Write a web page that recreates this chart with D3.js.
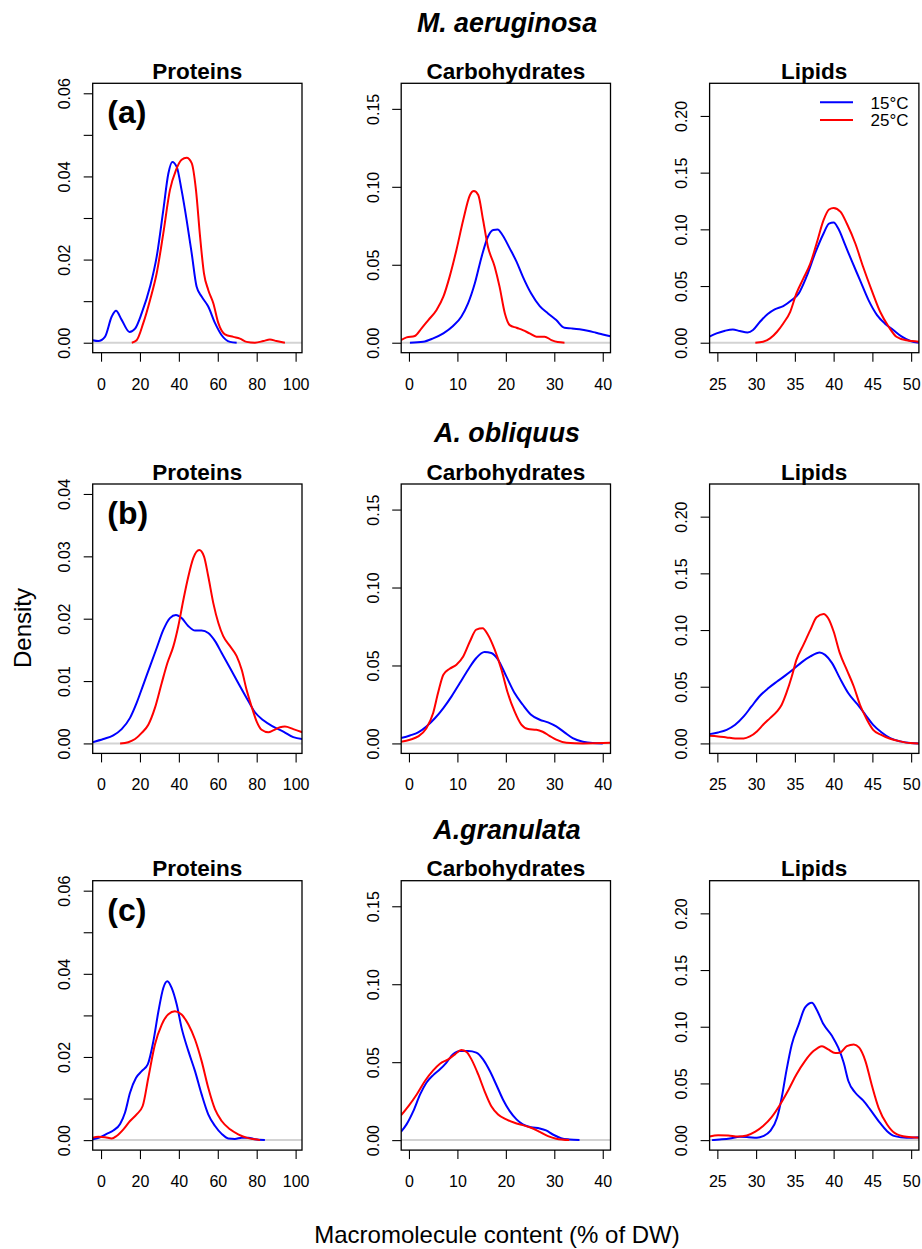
<!DOCTYPE html>
<html><head><meta charset="utf-8">
<script src="https://cdn.jsdelivr.net/npm/d3@7"></script>
<style>
body{margin:0;background:#fff}
text{font-family:"Liberation Sans",Arial,Helvetica,sans-serif;fill:#000}
</style>
</head><body>
<svg id="chart" width="922" height="1249"></svg>
<script>
// ---------- Labels ----------
const speciesTitles = ["M. aeruginosa", "A. obliquus", "A.granulata"];
const panelTags = ["(a)", "(b)", "(c)"];
const componentTitles = ["Proteins", "Carbohydrates", "Lipids"];
const seriesNames = ["15°C", "25°C"];
const seriesColors = ["#0000ff", "#ff0000"];
const yAxisTitle = "Density";
const xAxisTitle = "Macromolecule content (% of DW)";

// ---------- Tick values ----------
const proteinXTicks = [0, 20, 40, 60, 80, 100];
const carbXTicks = [0, 10, 20, 30, 40];
const lipidXTicks = [25, 30, 35, 40, 45, 50];
const proteinYTicks06 = [0, 0.01, 0.02, 0.03, 0.04, 0.05, 0.06];
const proteinYLabels06 = [0, 0.02, 0.04, 0.06];
const proteinYTicks04 = [0, 0.01, 0.02, 0.03, 0.04];
const carbYTicks = [0, 0.05, 0.10, 0.15];
const lipidYTicks = [0, 0.05, 0.10, 0.15, 0.20];

// ---------- Axis limits (xlim / ylim) ----------
const proteinXLim = [-0.3, 99.3];
const carbXLim = [0, 40];
const lipidXLim = [25, 50];
const proteinYLim06 = [0, 0.06];
const proteinYLim04 = [0, 0.04];
const carbYLim = [0, 0.16];
const lipidYLim = [0, 0.22];

// ---------- Density curves [x, density] ----------
// (a) M. aeruginosa
const aProt15 = [[-4.3,0.0006],[-1.4,0.0004],[2,0.0014],[5.5,0.0063],[7.7,0.0077],[10.6,0.0055],[14.6,0.0026],[17.5,0.0034],[20.9,0.0071],[25.2,0.0135],[28.6,0.0207],[32,0.0319],[34.6,0.0407],[36.6,0.0435],[38.9,0.0423],[41.4,0.0367],[44,0.0295],[46.6,0.0215],[49.1,0.0135],[51.7,0.0111],[55.1,0.0087],[58.6,0.0047],[62,0.0018],[66.3,0.0002],[69.7,0]];
const aProt25 = [[15.8,0],[18.3,0.0006],[21.7,0.0047],[25.2,0.0103],[28.6,0.0167],[32,0.0263],[35.4,0.0367],[38.5,0.0415],[41.4,0.044],[44,0.0445],[46.6,0.0432],[48.8,0.0367],[50.9,0.0255],[52.9,0.0167],[55.1,0.0127],[57.7,0.0095],[60.3,0.0047],[63.7,0.002],[68,0.0014],[71.4,0.001],[74.8,0.0002],[79.1,0],[83.4,0.0004],[86.8,0.0008],[90.2,0.0004],[94.5,0]];
const aCarb15 = [[0.2,0],[2.95,0.0006],[5,0.0028],[7.1,0.006],[9.1,0.0107],[10.8,0.0167],[12.2,0.0252],[13.6,0.0381],[15,0.0552],[16.3,0.068],[17.4,0.0723],[18.3,0.0727],[19.3,0.0691],[20.8,0.0605],[22.2,0.052],[23.5,0.0424],[25.2,0.0317],[27,0.0235],[28.7,0.0188],[30.4,0.0145],[32.1,0.0096],[33.5,0.0092],[35.2,0.0086],[36.9,0.0077],[38.6,0.0064],[40,0.0053],[41.6,0.0042]];
const aCarb25 = [[-1.65,0.0017],[-0.5,0.0034],[1.2,0.0043],[2.6,0.0092],[4,0.0145],[5.7,0.021],[7.1,0.0295],[8.4,0.0424],[9.8,0.0595],[11.2,0.0787],[12.6,0.0948],[13.4,0.0973],[14.3,0.0948],[15.3,0.0787],[16.3,0.0616],[17.7,0.0488],[18.7,0.036],[19.8,0.0188],[20.8,0.0113],[22.2,0.0096],[23.5,0.0081],[24.9,0.006],[26.3,0.0039],[28,0.0039],[29.4,0.0017],[30.7,0.0004],[32.1,0]];
const aLip15 = [[23.97,0.0053],[24.9,0.0082],[26,0.0106],[27,0.0117],[27.9,0.0103],[28.9,0.0091],[29.6,0.0112],[30.5,0.0185],[31.5,0.0253],[32.4,0.0294],[33.5,0.0323],[34.6,0.0376],[35.5,0.0435],[36.5,0.0582],[37.6,0.0787],[38.7,0.0963],[39.4,0.1051],[40,0.106],[40.6,0.1007],[41.5,0.086],[42.3,0.0728],[43.4,0.0552],[44.5,0.0376],[45.6,0.0244],[46.6,0.017],[47.7,0.0112],[48.8,0.0053],[49.9,0.0015],[51,0]];
const aLip25 = [[29.9,0],[30.9,0.0009],[31.8,0.0038],[32.7,0.0097],[33.5,0.017],[34.4,0.0273],[35.2,0.0435],[36.1,0.0567],[37,0.0699],[37.8,0.0875],[38.7,0.1081],[39.4,0.1175],[40,0.1189],[40.9,0.1154],[41.7,0.1051],[42.8,0.0875],[43.8,0.067],[44.9,0.0464],[46,0.0273],[47.1,0.0141],[48.1,0.0053],[49.4,0.0021],[51,0.0009]];
// (b) A. obliquus
const bProt15 = [[-4.3,0.0002],[1.2,0.0007],[6.3,0.0013],[10.6,0.0023],[14.9,0.0041],[18.3,0.0065],[21.7,0.0094],[25.2,0.0124],[28.6,0.0153],[32,0.0182],[35.4,0.0201],[38.5,0.0206],[41.4,0.0201],[44.9,0.0188],[48.3,0.0181],[51.7,0.0181],[55.1,0.0177],[58.6,0.0164],[62,0.0145],[66.3,0.0121],[70.5,0.0097],[74.8,0.0073],[79.1,0.005],[83.4,0.0037],[88.5,0.0027],[93.7,0.0019],[98.8,0.001],[103.4,0.0007]];
const bProt25 = [[9.8,0],[14,0.0002],[17.5,0.0007],[20.9,0.0017],[24.3,0.003],[27.7,0.0057],[31.2,0.0097],[34.1,0.0129],[37.2,0.0156],[39.7,0.0188],[42.3,0.023],[44.9,0.0268],[47.4,0.0297],[50.5,0.031],[52.9,0.03],[55.1,0.0268],[57.7,0.0225],[60.3,0.0193],[62.8,0.0172],[66.3,0.0156],[69.7,0.014],[72.3,0.0118],[74.8,0.0086],[77.4,0.0059],[80,0.0035],[82.5,0.0022],[86,0.0018],[88.5,0.0021],[92,0.0026],[94.5,0.0027],[98.8,0.0023],[103.4,0.0018]];
const bCarb15 = [[-1.65,0.0034],[0.2,0.0051],[1.9,0.0071],[3.6,0.0109],[5.4,0.0163],[7.1,0.0227],[8.8,0.0302],[10.5,0.0387],[12.2,0.0473],[13.9,0.0548],[15.6,0.0586],[17,0.058],[18.4,0.0537],[20.1,0.043],[21.8,0.0323],[23.5,0.0248],[25.2,0.0184],[27,0.0152],[28.7,0.0135],[30.4,0.0109],[32.1,0.0071],[33.8,0.0034],[35.9,0.0011],[37.9,0.0002],[40,0]];
const bCarb25 = [[-1.65,0.0011],[0.2,0.0024],[1.9,0.0045],[3.6,0.0098],[5,0.0195],[6,0.0323],[7.1,0.0441],[8.4,0.0479],[9.8,0.0505],[11.2,0.0558],[12.6,0.0655],[13.9,0.073],[15.2,0.0738],[16.3,0.0697],[17.7,0.0601],[19.1,0.0473],[20.4,0.0323],[21.8,0.0205],[23.2,0.012],[24.6,0.0092],[26.3,0.0088],[27.6,0.0075],[29,0.0049],[30.4,0.0024],[32.5,0.0004],[35.9,0],[40,0.0002],[41.6,0.0004]];
const bLip15 = [[24,0.0082],[25.1,0.0097],[26.2,0.012],[27.3,0.0164],[28.4,0.0238],[29.4,0.0326],[30.5,0.042],[31.6,0.0488],[32.7,0.0546],[33.7,0.0596],[34.8,0.0655],[35.9,0.0717],[37,0.0767],[38.2,0.0802],[38.9,0.0781],[39.8,0.0708],[40.8,0.0576],[41.9,0.0443],[43,0.035],[44.1,0.0253],[45.1,0.0164],[46.2,0.0097],[47.3,0.0047],[48.6,0.0018],[49.9,0.0003],[51,0]];
const bLip25 = [[24,0.0068],[25.1,0.0062],[26.2,0.0053],[27.3,0.0044],[28.4,0.0044],[29.2,0.0062],[30.1,0.0106],[30.9,0.0164],[31.8,0.0223],[32.7,0.0282],[33.3,0.0341],[33.9,0.0443],[34.6,0.059],[35.2,0.0737],[36.1,0.0869],[37,0.1001],[37.8,0.1113],[38.7,0.1142],[39.3,0.1104],[40,0.0987],[40.8,0.0796],[41.7,0.0649],[42.6,0.0502],[43.4,0.0341],[44.3,0.0209],[45.1,0.012],[46.2,0.0073],[47.3,0.0041],[48.6,0.0018],[49.9,0.0003],[51,0]];
// (c) A. granulata
const cProt15 = [[-4.3,0.0002],[-0.5,0.0007],[2.9,0.0015],[6.3,0.0023],[9.8,0.0039],[12.3,0.0066],[14.9,0.0114],[18,0.015],[20.9,0.0166],[24,0.0182],[26.9,0.0238],[29.5,0.031],[32,0.0366],[34.1,0.0382],[36.3,0.0366],[38.9,0.0326],[41.4,0.027],[44.9,0.0214],[48.3,0.0166],[51.7,0.011],[55.1,0.0062],[58.6,0.0034],[62,0.0015],[65.4,0.0004],[68.8,0.0003],[72.3,0.0006],[75.7,0.0006],[79.1,0.0002],[84.2,0]];
const cProt25 = [[-4.3,0.0006],[-1.4,0.0008],[2.1,0.0007],[5.5,0.0004],[8,0.001],[11.5,0.0026],[14.9,0.0046],[18.3,0.0062],[21.4,0.0082],[24.3,0.015],[27.7,0.023],[31.2,0.0278],[34.6,0.0303],[38,0.031],[41.4,0.0302],[44.9,0.0278],[48.3,0.0242],[51.7,0.019],[55.1,0.0126],[58.6,0.0074],[62,0.0046],[66.3,0.0026],[70.5,0.0014],[74.8,0.0006],[79.1,0.0002],[81.7,0]];
const cCarb15 = [[-1.65,0.0053],[-0.5,0.0101],[0.9,0.0186],[2.3,0.0293],[3.6,0.0368],[5,0.0417],[6.4,0.0454],[7.7,0.0496],[9.1,0.055],[10.5,0.0571],[12.2,0.0571],[13.9,0.0561],[15.3,0.0518],[16.7,0.0443],[18,0.0357],[19.4,0.0261],[20.8,0.0186],[22.2,0.0133],[23.5,0.0101],[25.2,0.0083],[27,0.0075],[28.3,0.0062],[29.7,0.0036],[31.4,0.0013],[33.1,0.0004],[35.2,0]];
const cCarb25 = [[-1.65,0.0158],[-0.1,0.0218],[1.6,0.0293],[3.3,0.0379],[5,0.0447],[6.4,0.049],[8.1,0.0518],[9.5,0.055],[10.8,0.0578],[11.9,0.0565],[12.9,0.0518],[14.3,0.0421],[15.6,0.0315],[17,0.0218],[18.4,0.0165],[20.1,0.0133],[21.8,0.0111],[23.5,0.0096],[25.2,0.0079],[27,0.0053],[28.7,0.0026],[30.4,0.0009],[33.1,0]];
const cLip15 = [[24.3,0],[25.3,0.0006],[26.6,0.0015],[27.9,0.0029],[29,0.0026],[30.1,0.0021],[30.9,0.0035],[31.8,0.0079],[32.7,0.0197],[33.3,0.0374],[33.9,0.0609],[34.6,0.0844],[35.5,0.1021],[36.3,0.1168],[37.2,0.1212],[37.8,0.1153],[38.7,0.1021],[39.8,0.0918],[40.6,0.0815],[41.3,0.0682],[41.9,0.0521],[42.8,0.0418],[43.8,0.035],[44.7,0.0271],[45.8,0.0168],[46.9,0.0079],[47.9,0.0035],[49.4,0.0021],[51,0.0026]];
const cLip25 = [[24,0.0032],[25.1,0.0044],[26.4,0.0041],[27.7,0.0032],[28.8,0.0041],[29.9,0.0074],[30.9,0.0124],[32,0.0203],[33.1,0.0315],[34.2,0.0447],[35.2,0.0579],[36.3,0.0697],[37.4,0.0785],[38.5,0.0829],[39.3,0.08],[40.2,0.0768],[40.8,0.0771],[41.7,0.0829],[42.6,0.0844],[43.3,0.0815],[44.1,0.0697],[44.9,0.0491],[45.8,0.0285],[46.9,0.0138],[47.9,0.0062],[49.4,0.0029],[51,0.0021]];

// ---------- Panel table built from the arrays ----------
const rowsData = [
  [ {s15:aProt15,s25:aProt25,xl:proteinXLim,yl:proteinYLim06,xt:proteinXTicks,yt:proteinYTicks06,yLab:proteinYLabels06},
    {s15:aCarb15,s25:aCarb25,xl:carbXLim,yl:carbYLim,xt:carbXTicks,yt:carbYTicks,yLab:carbYTicks},
    {s15:aLip15,s25:aLip25,xl:lipidXLim,yl:lipidYLim,xt:lipidXTicks,yt:lipidYTicks,yLab:lipidYTicks} ],
  [ {s15:bProt15,s25:bProt25,xl:proteinXLim,yl:proteinYLim04,xt:proteinXTicks,yt:proteinYTicks04,yLab:proteinYTicks04},
    {s15:bCarb15,s25:bCarb25,xl:carbXLim,yl:carbYLim,xt:carbXTicks,yt:carbYTicks,yLab:carbYTicks},
    {s15:bLip15,s25:bLip25,xl:lipidXLim,yl:lipidYLim,xt:lipidXTicks,yt:lipidYTicks,yLab:lipidYTicks} ],
  [ {s15:cProt15,s25:cProt25,xl:proteinXLim,yl:proteinYLim06,xt:proteinXTicks,yt:proteinYTicks06,yLab:proteinYLabels06},
    {s15:cCarb15,s25:cCarb25,xl:carbXLim,yl:carbYLim,xt:carbXTicks,yt:carbYTicks,yLab:carbYTicks},
    {s15:cLip15,s25:cLip25,xl:lipidXLim,yl:lipidYLim,xt:lipidXTicks,yt:lipidYTicks,yLab:lipidYTicks} ]
];

// ---------- Layout ----------
const colLeft = [92.7, 401.2, 709.6];
const rowTop = [83.3, 484.0, 880.7];
const boxW = 209.3, boxH = 269.4;
const rowTitleY = [32, 442, 839];

const svg = d3.select("#chart");
const pad = (lim) => { const r = lim[1]-lim[0]; return [lim[0]-0.04*r, lim[1]+0.04*r]; };

rowsData.forEach((row, ri) => {
  svg.append("text")
    .attr("x", 507).attr("y", rowTitleY[ri])
    .attr("text-anchor", "middle")
    .style("font-size", "26.8px").style("font-weight", "bold").style("font-style", "italic")
    .text(speciesTitles[ri]);

  row.forEach((p, ci) => {
    const left = colLeft[ci], top = rowTop[ri];
    const g = svg.append("g").attr("transform", `translate(${left},${top})`);
    const x = d3.scaleLinear().domain(pad(p.xl)).range([0, boxW]);
    const y = d3.scaleLinear().domain(pad(p.yl)).range([boxH, 0]);

    const clipId = `clip-${ri}-${ci}`;
    g.append("clipPath").attr("id", clipId)
      .append("rect").attr("x", 0).attr("y", 0).attr("width", boxW).attr("height", boxH);
    const plot = g.append("g").attr("clip-path", `url(#${clipId})`);

    // zero line
    plot.append("line")
      .attr("x1", 0).attr("x2", boxW)
      .attr("y1", y(0)).attr("y2", y(0))
      .attr("stroke", "#d3d3d3").attr("stroke-width", 2);

    const line = d3.line().x(d => x(d[0])).y(d => y(d[1])).curve(d3.curveMonotoneX);
    [p.s15, p.s25].forEach((s, si) => {
      plot.append("path").datum(s)
        .attr("d", line)
        .attr("fill", "none")
        .attr("stroke", seriesColors[si])
        .attr("stroke-width", 2)
        .attr("stroke-linejoin", "round");
    });

    // x axis
    const xa = g.append("g").attr("transform", `translate(0,${boxH})`)
      .call(d3.axisBottom(x).tickValues(p.xt).tickSize(9).tickSizeOuter(0).tickFormat(d3.format("d")));
    xa.select(".domain").remove();
    xa.selectAll(".tick line").attr("stroke", "#000").attr("stroke-width", 1.1);
    xa.selectAll(".tick text").attr("y", 37).attr("dy", 0)
      .style("font-size", "16px").style("font-family", "'Liberation Sans', Arial, sans-serif").attr("fill", "#1a1a1a");

    // y axis
    const ya = g.append("g")
      .call(d3.axisLeft(y).tickValues(p.yt).tickSize(9).tickSizeOuter(0)
        .tickFormat(d => p.yLab.some(v => Math.abs(v - d) < 1e-9) ? d3.format(".2f")(d) : ""));
    ya.select(".domain").remove();
    ya.selectAll(".tick line").attr("stroke", "#000").attr("stroke-width", 1.1);
    ya.selectAll(".tick text")
      .attr("transform", "rotate(-90)")
      .attr("x", 0).attr("y", -22.5).attr("dy", 0)
      .attr("text-anchor", "middle")
      .style("font-size", "16px").style("font-family", "'Liberation Sans', Arial, sans-serif").attr("fill", "#1a1a1a");

    // box
    g.append("rect").attr("x", 0).attr("y", 0).attr("width", boxW).attr("height", boxH)
      .attr("fill", "none").attr("stroke", "#000").attr("stroke-width", 1.3);

    // panel title
    g.append("text").attr("x", boxW/2).attr("y", -4.5)
      .attr("text-anchor", "middle")
      .style("font-size", "22.5px").style("font-weight", "bold")
      .text(componentTitles[ci]);

    if (ci === 0) {
      g.append("text").attr("x", 14.6).attr("y", 40)
        .style("font-size", "32px").style("font-weight", "bold")
        .text(panelTags[ri]);
    }
    if (ri === 0 && ci === 2) {
      const lg = g.append("g");
      seriesNames.forEach((nm, si) => {
        const ly = 19 + si * 17.7;
        lg.append("line").attr("x1", 110.4).attr("x2", 143.4).attr("y1", ly).attr("y2", ly)
          .attr("stroke", seriesColors[si]).attr("stroke-width", 2);
        lg.append("text").attr("x", 161).attr("y", ly + 6.5)
          .style("font-size", "17px").text(nm);
      });
    }
  });
});

// global axis titles
svg.append("text")
  .attr("transform", "translate(31,628) rotate(-90)")
  .attr("text-anchor", "middle")
  .style("font-size", "24px")
  .text(yAxisTitle);

svg.append("text")
  .attr("x", 497).attr("y", 1243)
  .attr("text-anchor", "middle")
  .style("font-size", "24px")
  .text(xAxisTitle);
</script>
</body></html>
